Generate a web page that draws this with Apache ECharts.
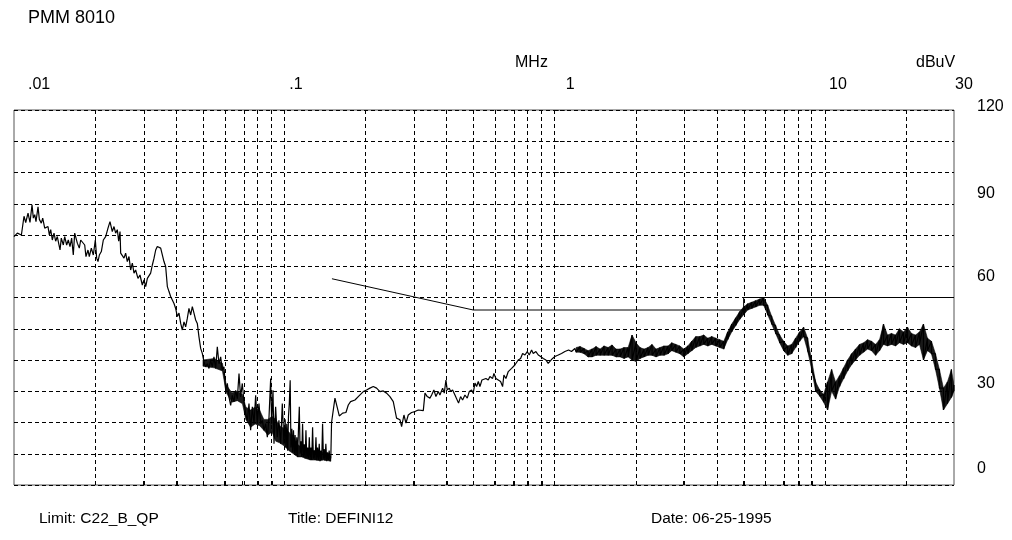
<!DOCTYPE html>
<html><head><meta charset="utf-8">
<script src="https://cdn.jsdelivr.net/npm/echarts@6/dist/echarts.min.js"></script>
<style>html,body{margin:0;padding:0;background:#fff}#c{width:1012px;height:540px}</style>
</head><body><div id="c"></div>
<script>
// Frequency in MHz, level in dBuV
// Band A sweep (10 kHz - 150 kHz)
const bandA = [[0.0100,79.5],[0.01029,80.6],[0.01065,80],[0.01089,86],[0.01105,84],[0.01127,87],[0.01146,84],[0.01166,89.7],[0.01179,85.4],[0.01193,86.5],[0.01206,84.3],[0.01227,89],[0.01241,85],[0.01262,83.8],[0.01277,85.4],[0.01299,82.2],[0.01321,81.7],[0.01336,82.7],[0.01351,80],[0.01367,81.7],[0.01386,78.4],[0.01406,80.6],[0.01426,78],[0.01446,79.5],[0.0148,75.2],[0.01496,79],[0.01522,76.8],[0.0154,79.5],[0.01566,76.8],[0.01588,78.4],[0.01611,76.3],[0.01634,79],[0.01657,73.6],[0.01677,80.6],[0.01696,81.1],[0.01715,77.4],[0.01744,75.8],[0.01765,78.4],[0.01795,78],[0.01826,76.8],[0.01846,73.1],[0.01878,75.2],[0.01899,73.1],[0.01932,75.8],[0.01965,73.6],[0.01999,78.4],[0.02022,72.6],[0.02045,71.5],[0.02069,73.6],[0.02104,74.7],[0.0214,78.4],[0.02183,79.5],[0.02227,82.2],[0.02265,84.3],[0.02291,84.9],[0.0231,81.1],[0.02344,82.7],[0.02377,80.6],[0.02411,81.7],[0.02439,78],[0.02467,81.1],[0.02481,74.2],[0.02516,74.7],[0.02552,72.6],[0.02588,74.2],[0.02625,71.5],[0.02663,73.1],[0.02701,68.8],[0.0274,71],[0.02779,67.8],[0.02818,68.8],[0.02875,66.1],[0.02924,67.2],[0.02983,64],[0.03026,65.6],[0.0307,63.5],[0.03114,66.1],[0.03158,66.7],[0.03202,67.8],[0.03249,70.4],[0.03296,72.6],[0.03343,75.2],[0.03389,76.3],[0.03438,76.8],[0.03488,75.8],[0.03537,75.8],[0.03587,71.5],[0.03639,69.9],[0.03692,63.5],[0.03744,61.9],[0.03797,60.3],[0.03852,59.7],[0.03907,58.1],[0.03963,56.5],[0.04019,53.9],[0.04077,55],[0.04136,51.7],[0.04194,49.6],[0.04254,52.2],[0.04315,50.6],[0.04376,53.3],[0.04438,56.5],[0.04503,54.4],[0.04567,57.1],[0.04632,55],[0.04699,52.8],[0.04765,51.7],[0.04833,47.4],[0.04903,43.7],[0.04972,42.1],[0.05044,39.4],[0.05117,37.8],[0.0519,38.8],[0.05264,37.3],[0.0534,39.9],[0.05415,37.8],[0.05491,41],[0.05571,37.3],[0.0565,44.2],[0.05731,38.8],[0.05814,41],[0.05897,36.7],[0.0598,37.8],[0.06066,30.3],[0.06153,32.5],[0.0624,28.2],[0.0633,25.5],[0.0642,28.7],[0.0651,26.6],[0.06606,30.3],[0.067,27.6],[0.06797,35.7],[0.0689,28.2],[0.0699,32.5],[0.07093,26.6],[0.07196,22.8],[0.073,20.7],[0.074,26.1],[0.07505,17.5],[0.07614,25],[0.07724,19.6],[0.07833,28.7],[0.07943,19.6],[0.08056,26.1],[0.08174,19.6],[0.08291,20.7],[0.08408,17.5],[0.08528,19.6],[0.08652,15.3],[0.08776,21.7],[0.089,34.1],[0.08975,19.6],[0.09078,30.3],[0.09156,13.2],[0.09286,25],[0.09416,15.3],[0.0955,20.7],[0.09689,13.2],[0.09828,26.1],[0.09967,13.2],
[0.1000,13.2],[0.1007,21],[0.1014,12],[0.1021,19.6],[0.1029,11],[0.1036,22],[0.1043,26],[0.1051,33.5],[0.1058,12],[0.1066,18],[0.1073,10.5],[0.1081,17.5],[0.1089,10],[0.1096,16],[0.1104,9.5],[0.1112,15.3],[0.1120,9],[0.1128,18],[0.1136,25],[0.1144,10],[0.1152,14],[0.1160,9],[0.1168,19.6],[0.1177,9],[0.1185,13],[0.1194,8.5],[0.1202,17.5],[0.1211,8.5],[0.1219,12],[0.1228,8.4],[0.1237,15.3],[0.1245,8],[0.1254,12],[0.1263,8],[0.1272,18.5],[0.1281,8.4],[0.1290,11],[0.1299,8],[0.1309,15.3],[0.1318,7.9],[0.1327,12],[0.1337,8],[0.1346,13.2],[0.1356,7.6],[0.1365,11],[0.1375,8],[0.1385,19.6],[0.1395,8.4],[0.1404,11.5],[0.1414,7.8],[0.1424,13.2],[0.1435,7.6],[0.1445,10.5],[0.1455,8],[0.1465,11],[0.1476,7.6],[0.1486,9]];

// Dense noise core of band A (lower / upper edge)
const lfEnvFreq = [0.050,0.055,0.059,0.061,0.064,0.067,0.070,0.072,0.075,0.078,0.081,0.084,0.087,0.090,0.093,0.096,0.100,0.104,0.108,0.112,0.116,0.120,0.125,0.130,0.135,0.140,0.145,0.1486];
const lfEnvLo   = [38,  37.5, 36.5, 29.5, 26.5, 27,   26,   21,   18.5, 19.5, 19,   17.5, 16,   17,   14,   13.5, 12.5, 11,   10,   9,    9,    8.5,  8,    8,    7.8,  8,    7.8,  7.6];
const lfEnvHi   = [40,  40.5, 39,   32,   29.5, 30,   29,   25,   24,   25,   24,   21,   21,   22,   21,   19,   18,   17,   15,   13,   12,   11.5, 11,   11,   10.5, 10.5, 10,   9];

// Band B sweep (150 kHz - 1.2 MHz)
const bandB = [[0.1495,20],[0.1539,27.8],[0.1597,22.1],[0.1643,23],[0.169,23.2],[0.1724,25.6],[0.1758,26.7],[0.1825,27.2],[0.1877,28.3],[0.1959,29.9],[0.2015,30.4],[0.2073,31],[0.2133,31.5],[0.2194,31],[0.2258,29.9],[0.2322,30.1],[0.2389,29.4],[0.2458,28.3],[0.2529,26.7],[0.2565,24],[0.2601,21.4],[0.2677,20.9],[0.2715,18.7],[0.277,22.4],[0.2817,19.8],[0.2873,22.4],[0.2956,23.2],[0.3042,23.5],[0.313,24],[0.3266,23.8],[0.3313,29.4],[0.3378,28.3],[0.3456,27.8],[0.3506,28.8],[0.3574,30.4],[0.3637,28.3],[0.371,29.9],[0.3763,28.8],[0.385,31],[0.3905,29.4],[0.396,33.6],[0.4005,30.4],[0.4075,31],[0.4121,29.9],[0.4192,30.4],[0.4276,28.8],[0.4337,28.3],[0.441,26.2],[0.4487,28.3],[0.4564,27.2],[0.4656,28.8],[0.4749,27.8],[0.483,29.9],[0.4928,30.4],[0.4997,29.4],[0.507,32.6],[0.5143,31.5],[0.5217,33.1],[0.5291,31.5],[0.5382,33.6],[0.5473,33.1],[0.5567,34.1],[0.5679,33.6],[0.576,34.7],[0.5894,34.1],[0.596,35.7],[0.6063,34.1],[0.6184,33.6],[0.6308,33.1],[0.6417,31.5],[0.6489,35.2],[0.6602,34.1],[0.6735,36.3],[0.6831,35.7],[0.6928,37.3],[0.7027,36.8],[0.7125,38.4],[0.7228,38.9],[0.733,40],[0.748,40.5],[0.761,42.1],[0.7763,41.6],[0.7917,42.7],[0.8051,41.6],[0.8215,43.2],[0.8332,42.1],[0.8522,42.7],[0.8697,41.6],[0.887,41.1],[0.9073,40.5],[0.9281,40],[0.9463,38.9],[0.96,39.5],[0.982,40.5],[1.002,41.1],[1.031,41.6],[1.06,42.1],[1.091,42.7],[1.126,43.2],[1.154,42.7],[1.188,43.7]];

// Band B, 1.2 - 30 MHz: upper and lower edge of the noisy trace
const hfFreq = [1.2,1.242,1.285,1.329,1.375,1.423,1.472,1.523,1.576,1.631,1.687,1.746,1.806,1.869,1.933,2.0,2.069,2.141,2.215,2.292,2.371,2.453,2.538,2.626,
  2.712,2.806,2.903,3.003,3.107,3.215,3.326,3.441,3.56,3.683,3.811,3.943,4.079,4.22,4.366,4.517,4.674,4.835,5.003,5.176,5.355,5.54,5.732,5.93,6.136,6.348,6.568,6.795,7.03,7.274,7.525,7.786,8.055,8.334,8.622,8.921,9.229,9.549,9.879,
  10.22,10.58,10.94,11.32,11.71,12.12,12.54,12.97,13.42,13.89,14.37,14.86,15.38,15.91,16.46,17.03,17.62,18.23,18.86,19.51,20.19,20.89,21.61,22.36,23.13,23.93,24.76,25.62,26.5,27.42,28.37,29.35,30];
const hfHi = [44,44.3,43.7,43,43.5,44.3,43.5,44.5,44,44.8,43.5,43.5,44,44,48,45.5,44,43.5,44,45,43.5,44,44.5,44.5,
  45.5,45,44.5,43.5,44.5,46,47.5,47.5,48,47,47.5,47,46.5,46,49,51.5,53.5,55.5,57,58,58.5,59,59.5,60,57.5,54,51,48,46,44.5,45,47,49,50.5,47,40,33,30.5,29,
  33,37,33,35,37.5,40,42,43.5,45,45.5,46.5,46,45,46.5,51.5,48,48.5,48,50,49,50.5,48.5,48,49,51.5,47,46,42,37,31,33,37,32];
const hfLo = [42.5,42.5,42,41,41,41.5,41.5,41.5,41.5,41.5,41,41,40.5,41,40,39.5,40.5,41,41.5,41.5,41,41.5,41.5,42,
  43,42.5,42,41,42,43,44,44.5,45,44.5,45,44.5,44,43.5,46.5,49,51,53,54.5,56,56.5,57,57.5,57.5,54.5,51.5,48.5,45.5,43,41.5,42,44,46,47.5,43,37,30,28.5,26.5,
  24,30,27.5,31.5,34,36.5,38.5,40,41.5,42.5,43.5,43,41.5,43,45,44.5,45,44.5,45.5,45,45.5,44.5,44,45,40,43,42,37,31,24,26,28,30];

const limitC22BQP = [[0.15,66],[0.5,56],[5,56],[5,60],[30,60]];

const xTickLabels = [0.01, 0.1, 1, 10, 30];
const xTickTexts = ['.01', '.1', '1', '10', '30'];
const yTickLabels = [0, 30, 60, 90, 120];
const xGridFreqs = [0.02,0.03,0.04,0.05,0.06,0.07,0.08,0.09,0.1,0.2,0.3,0.4,0.5,0.6,0.7,0.8,0.9,1,2,3,4,5,6,7,8,9,10,20];

const FONT = '"Liberation Sans", Arial, sans-serif';
const lg = (f) => Math.log10(f);
const toXY = (arr) => arr.map(p => [lg(p[0]), p[1]]);

// full trace: swept points + zig-zag between the upper/lower edges above 1.2 MHz
const hfTrace = [];
hfFreq.forEach((f, i) => { hfTrace.push([f, hfHi[i]]); hfTrace.push([f, hfLo[i]]); });
const trace = bandA.concat(bandB, hfTrace);

// filled noise band between lower and upper edge (custom polygon through the axes)
function bandSeries(freqs, lo, hi) {
  return {
    type: 'custom', silent: true, z: 2, clip: true,
    data: [[lg(freqs[0]), lo[0]]],
    encode: { x: 0, y: 1 },
    renderItem: function (params, api) {
      const pts = [];
      for (let i = 0; i < freqs.length; i++) pts.push(api.coord([lg(freqs[i]), hi[i]]));
      for (let i = freqs.length - 1; i >= 0; i--) pts.push(api.coord([lg(freqs[i]), lo[i]]));
      return { type: 'polygon', shape: { points: pts }, style: { fill: '#000', stroke: '#000', lineWidth: 0.6, opacity: 0.9 } };
    }
  };
}

const xPad = [14, 5, 11, 4, 1];
const xRich = {};
xTickTexts.forEach((t, i) => { xRich['x' + i] = { fontSize: 16, fontFamily: FONT, color: '#000', padding: [0, 0, 0, xPad[i]] }; });
const yShift = {120: 7, 90: 21, 60: 41, 30: 16, 0: 33};
const yRich = {};
yTickLabels.forEach(v => { yRich['y' + v] = { fontSize: 16, fontFamily: FONT, color: '#000', padding: [0, 0, yShift[v], 0] }; });

const chart = echarts.init(document.getElementById('c'), null, { renderer: 'canvas' });
chart.setOption({
  animation: false,
  backgroundColor: '#fff',
  grid: { left: 14, right: 58, top: 110, bottom: 55, show: true, borderColor: '#555', borderWidth: 1, backgroundColor: 'transparent' },
  xAxis: {
    type: 'value', position: 'top', min: lg(0.01), max: lg(30),
    axisLine: { show: false },
    axisTick: { show: true, customValues: xGridFreqs.map(lg), length: 4, inside: false, lineStyle: { color: '#000', width: 1 } },
    splitLine: { show: false },
    axisLabel: {
      customValues: xTickLabels.map(lg), align: 'left', margin: 17,
      formatter: (v) => { const i = xTickLabels.findIndex(f => Math.abs(lg(f) - v) < 1e-6); return i < 0 ? '' : '{x' + i + '|' + xTickTexts[i] + '}'; },
      rich: xRich
    }
  },
  yAxis: {
    type: 'value', position: 'right', min: 0, max: 120, interval: 10,
    axisLine: { show: false },
    axisTick: { show: true, length: 10, lineStyle: { color: '#000', type: [4, 3], width: 1 } },
    splitLine: { show: true, lineStyle: { color: '#000', type: [4, 3], width: 1 } },
    axisLabel: {
      customValues: yTickLabels, margin: 23, align: 'left',
      formatter: (v) => '{y' + v + '|' + v + '}',
      rich: yRich
    }
  },
  series: [
    {
      type: 'line', name: 'Limit', data: toXY(limitC22BQP), showSymbol: false, silent: true,
      lineStyle: { color: '#000', width: 1 }, z: 3,
      markLine: {
        silent: true, symbol: ['none', 'none'], animation: false,
        label: { show: false },
        lineStyle: { color: '#000', type: [4, 3], width: 1 },
        emphasis: { disabled: true },
        data: xGridFreqs.map(f => ({ xAxis: lg(f) }))
      }
    },
    bandSeries(lfEnvFreq, lfEnvLo, lfEnvHi),
    bandSeries(hfFreq, hfLo, hfHi),
    {
      type: 'line', name: 'Trace', data: toXY(trace), showSymbol: false, silent: true,
      sampling: null, lineStyle: { color: '#000', width: 1.2 }, z: 4
    }
  ],
  graphic: [
    { type: 'text', x: 28, y: 18, style: { text: 'PMM 8010', fontSize: 18, fontFamily: FONT, fill: '#000', textVerticalAlign: 'middle', verticalAlign: 'middle' } },
    { type: 'text', x: 515, y: 63, style: { text: 'MHz', fontSize: 16, fontFamily: FONT, fill: '#000', textVerticalAlign: 'middle', verticalAlign: 'middle' } },
    { type: 'text', x: 916, y: 63, style: { text: 'dBuV', fontSize: 16, fontFamily: FONT, fill: '#000', textVerticalAlign: 'middle', verticalAlign: 'middle' } },
    { type: 'text', x: 39, y: 519, style: { text: 'Limit: C22_B_QP', fontSize: 15.5, fontFamily: FONT, fill: '#000', textVerticalAlign: 'middle', verticalAlign: 'middle' } },
    { type: 'text', x: 288, y: 519, style: { text: 'Title: DEFINI12', fontSize: 15.5, fontFamily: FONT, fill: '#000', textVerticalAlign: 'middle', verticalAlign: 'middle' } },
    { type: 'text', x: 651, y: 519, style: { text: 'Date: 06-25-1995', fontSize: 15.5, fontFamily: FONT, fill: '#000', textVerticalAlign: 'middle', verticalAlign: 'middle' } }
  ]
});
</script>
</body></html>
